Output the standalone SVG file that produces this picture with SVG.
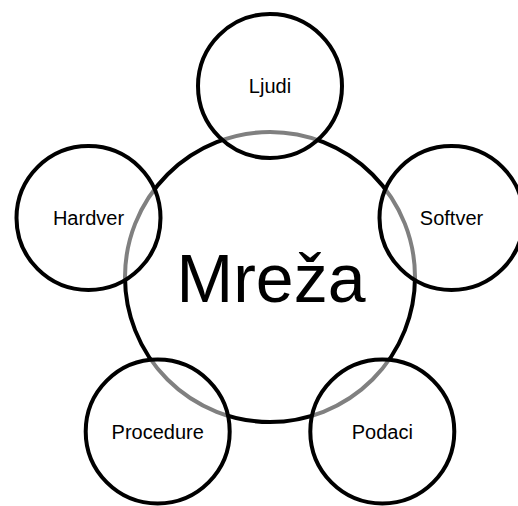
<svg xmlns="http://www.w3.org/2000/svg" width="518" height="506" viewBox="0 0 518 506">
<style>
.big{fill:#fff;stroke:#000;stroke-width:4}
.sat{fill:#fff;fill-opacity:0.5;stroke:#000;stroke-width:4}
.lbl{font-family:"Liberation Sans",Arial,sans-serif;font-size:20px;fill:#000;text-anchor:middle}
.main{font-family:"Liberation Sans",Arial,sans-serif;font-size:68px;fill:#000;text-anchor:middle}
</style>
<rect width="518" height="506" fill="#fff"/>
<g id="mreza">
<circle class="big" cx="270" cy="277" r="145"/>
<text class="main" x="271" y="302">Mreža</text>
</g>
<g id="connectors"></g>
<g id="ljudi">
<circle class="sat" cx="270" cy="86" r="72"/>
<text class="lbl" x="270" y="93">Ljudi</text>
</g>
<g id="softver">
<circle class="sat" cx="451.5" cy="218" r="72"/>
<text class="lbl" x="451.5" y="225">Softver</text>
</g>
<g id="podaci">
<circle class="sat" cx="382.3" cy="431.5" r="72"/>
<text class="lbl" x="382.3" y="438.5">Podaci</text>
</g>
<g id="procedure">
<circle class="sat" cx="157.7" cy="431.5" r="72"/>
<text class="lbl" x="157.7" y="438.5">Procedure</text>
</g>
<g id="hardver">
<circle class="sat" cx="88.5" cy="218" r="72"/>
<text class="lbl" x="88.5" y="225">Hardver</text>
</g>
</svg>
